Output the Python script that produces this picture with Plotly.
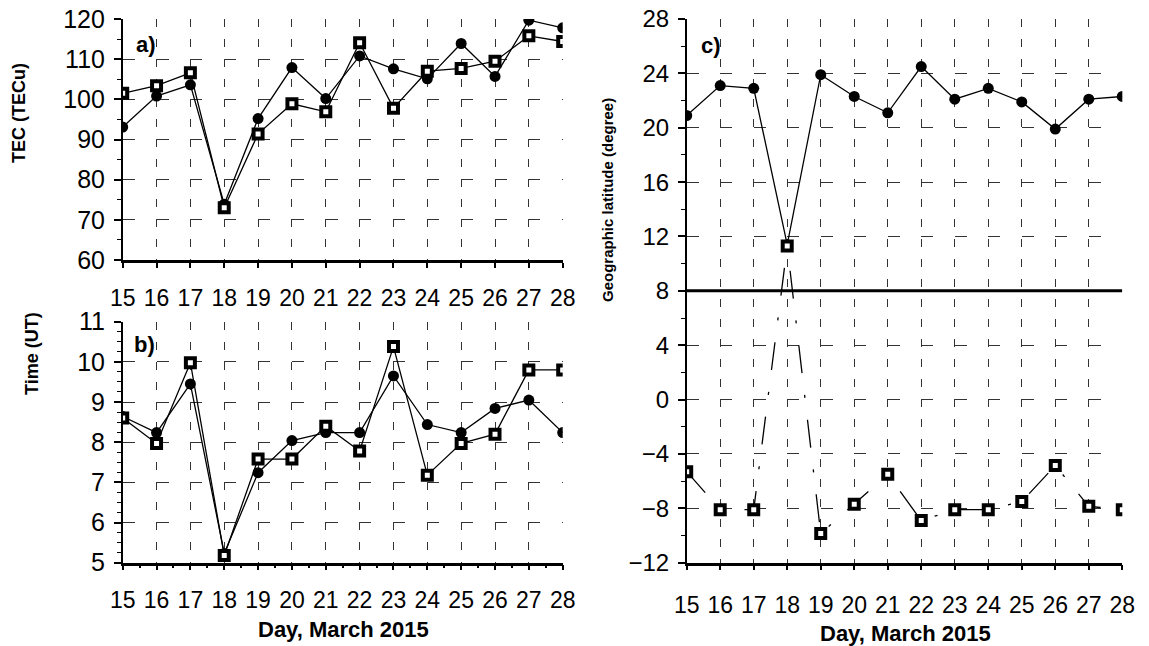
import plotly.graph_objects as go

days = list(range(15, 29))
day_labels = [str(d) for d in days]

tec_circle = [93.1, 100.8, 103.6, 73.9, 95.2, 107.9, 100.2, 110.8, 107.6, 105.1, 113.9, 105.7, 119.7, 117.8]
tec_square = [101.5, 103.4, 106.6, 73.0, 91.4, 98.9, 96.9, 114.1, 97.8, 107.0, 107.7, 109.5, 115.8, 114.4]

time_circle = [8.64, 8.24, 9.45, 5.23, 7.24, 8.04, 8.24, 8.24, 9.65, 8.44, 8.24, 8.84, 9.05, 8.24]
time_square = [8.60, 7.97, 9.98, 5.18, 7.58, 7.58, 8.40, 7.78, 10.38, 7.18, 7.97, 8.20, 9.80, 9.80]

lat_circle = [20.9, 23.1, 22.9, 11.4, 23.9, 22.3, 21.1, 24.5, 22.1, 22.9, 21.9, 19.9, 22.1, 22.3]
lat_square = [-5.3, -8.1, -8.1, 11.3, -9.85, -7.7, -5.5, -8.9, -8.1, -8.1, -7.5, -4.85, -7.85, -8.1]

ref_lat = 8

W, H = 1149, 646
def px(x):
    return x / W
def py(y):
    return 1 - y / H

FONT = "Liberation Sans, Arial, sans-serif"

circle_marker = dict(symbol="circle", size=11, color="black", line=dict(color="black", width=0))
square_marker = dict(symbol="square", size=9, color="white", line=dict(color="black", width=4))

fig = go.Figure()
# panel a
fig.add_trace(go.Scatter(x=days, y=tec_circle, mode="lines+markers", xaxis="x", yaxis="y",
                         line=dict(color="black", width=1.3), marker=circle_marker, showlegend=False))
fig.add_trace(go.Scatter(x=days, y=tec_square, mode="lines+markers", xaxis="x", yaxis="y",
                         line=dict(color="black", width=1.3), marker=square_marker, showlegend=False))
# panel b
fig.add_trace(go.Scatter(x=days, y=time_circle, mode="lines+markers", xaxis="x2", yaxis="y2",
                         line=dict(color="black", width=1.3), marker=circle_marker, showlegend=False))
fig.add_trace(go.Scatter(x=days, y=time_square, mode="lines+markers", xaxis="x2", yaxis="y2",
                         line=dict(color="black", width=1.3), marker=square_marker, showlegend=False))
# panel c
fig.add_trace(go.Scatter(x=[days[0], days[-1]], y=[ref_lat, ref_lat], mode="lines", xaxis="x3", yaxis="y3",
                         line=dict(color="black", width=3), showlegend=False, hoverinfo="skip"))
fig.add_trace(go.Scatter(x=days, y=lat_circle, mode="lines+markers", xaxis="x3", yaxis="y3",
                         line=dict(color="black", width=1.3), marker=circle_marker, showlegend=False))
fig.add_trace(go.Scatter(x=days, y=lat_square, mode="lines+markers", xaxis="x3", yaxis="y3",
                         line=dict(color="black", width=1.3, dash="28px,22px,3px,22px"),
                         marker=square_marker, showlegend=False))

grid_col = "#333333"
hdash = "12px,21.8px"
vdash = "8px,12px"

def xaxis_common(domain, anchor, standoff, minor=None):
    d = dict(domain=domain, anchor=anchor, range=[15, 28], tickmode="array", tickvals=days,
             ticktext=day_labels, ticks="outside", ticklen=5, tickwidth=1.5, tickcolor="black",
             showline=True, linecolor="black", linewidth=2.5, showgrid=True, gridcolor=grid_col,
             gridwidth=1, griddash=vdash, zeroline=False, automargin=False,
             tickfont=dict(family=FONT, size=23, color="black"), ticklabelstandoff=standoff)
    if minor:
        d["minor"] = minor
    return d

def yaxis_common(domain, anchor, rng, dtick, minor_dtick, size=25):
    return dict(domain=domain, anchor=anchor, range=rng, dtick=dtick, tick0=rng[0], ticks="outside",
                ticklen=7, tickwidth=1.5, tickcolor="black", showline=True, linecolor="black",
                linewidth=1.5, showgrid=True, gridcolor=grid_col, gridwidth=1, griddash=hdash,
                zeroline=False, automargin=False, tickfont=dict(family=FONT, size=size, color="black"),
                ticklabelstandoff=4,
                minor=dict(dtick=minor_dtick, ticks="outside", ticklen=4, tickcolor="black",
                           tickwidth=1, showgrid=False))

fig.update_layout(
    width=W, height=H, margin=dict(l=0, r=0, t=0, b=0),
    paper_bgcolor="white", plot_bgcolor="white",
    xaxis=xaxis_common([px(122.7), px(562.7)], "y", 11),
    yaxis=yaxis_common([py(260), py(19)], "x", [60, 120], 10, 5),
    xaxis2=xaxis_common([px(122.7), px(562.7)], "y2", 10,
                        minor=dict(dtick=0.5, ticks="outside", ticklen=3, tickcolor="black", showgrid=False)),
    yaxis2=yaxis_common([py(562.7), py(321.7)], "x2", [5, 11], 1, 0.25),
    xaxis3=xaxis_common([px(686.7), px(1122.3)], "y3", 15),
    yaxis3=yaxis_common([py(562.7), py(19)], "x3", [-12, 28], 4, 2, size=24),
)
fig.layout.yaxis3.griddash = "12px,21.5px"

ann = []
def add_text(text, x, y, size, bold=True, angle=0, xanchor="center"):
    ann.append(dict(text=("<b>%s</b>" % text) if bold else text, x=px(x), y=py(y), xref="paper",
                    yref="paper", showarrow=False, textangle=angle, xanchor=xanchor, yanchor="middle",
                    font=dict(family=FONT, size=size, color="black")))

add_text("a)", 134, 44, 22, xanchor="left")
add_text("b)", 132, 345, 22, xanchor="left")
add_text("c)", 699, 45, 22, xanchor="left")
add_text("TEC (TECu)", 19, 113, 18, angle=-90)
add_text("Time (UT)", 32, 354, 18, angle=-90)
add_text("Geographic latitude (degree)", 607, 200, 15, angle=-90)
add_text("Day, March 2015", 343, 629, 22)
add_text("Day, March 2015", 905, 633, 22)
fig.update_layout(annotations=ann)

fig.write_html("out.html")
